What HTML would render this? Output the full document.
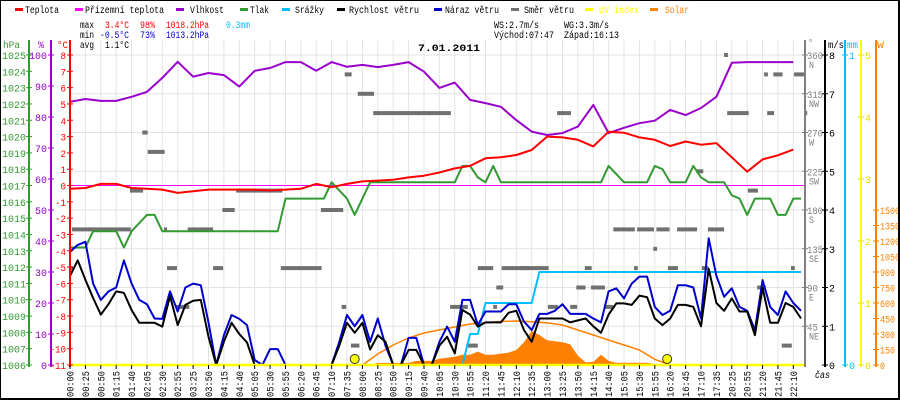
<!DOCTYPE html>
<html><head><meta charset="utf-8"><style>
html,body{margin:0;padding:0;background:#fff;}
svg{display:block;}
text{font-family:"Liberation Mono","DejaVu Sans Mono",monospace;font-size:10px;}
</style></head><body>
<svg id="chart" width="900" height="400" viewBox="0 0 900 400" xmlns="http://www.w3.org/2000/svg">
<rect x="0" y="0" width="900" height="400" fill="#fff"/>
<g id="grid"></g>
<g id="series"></g>
<g id="axes"></g>
<g id="legend">
</g>
<g>
<text x="80" y="28" textLength="14" lengthAdjust="spacingAndGlyphs">max</text>
<text x="105" y="28" fill="#f00" textLength="24" lengthAdjust="spacingAndGlyphs">3.4°C</text>
<text x="140" y="28" fill="#f00" textLength="15" lengthAdjust="spacingAndGlyphs">98%</text>
<text x="166" y="28" fill="#f00" textLength="43" lengthAdjust="spacingAndGlyphs">1018.2hPa</text>
<text x="226" y="28" fill="#00bfff" textLength="24" lengthAdjust="spacingAndGlyphs">0.3mm</text>
<text x="80" y="38" textLength="14" lengthAdjust="spacingAndGlyphs">min</text>
<text x="100" y="38" fill="#00c" textLength="29" lengthAdjust="spacingAndGlyphs">-0.5°C</text>
<text x="140" y="38" fill="#00c" textLength="15" lengthAdjust="spacingAndGlyphs">73%</text>
<text x="166" y="38" fill="#00c" textLength="43" lengthAdjust="spacingAndGlyphs">1013.2hPa</text>
<text x="80" y="48" textLength="14" lengthAdjust="spacingAndGlyphs">avg</text>
<text x="105" y="48" textLength="24" lengthAdjust="spacingAndGlyphs">1.1°C</text>
<text x="494" y="28" textLength="45" lengthAdjust="spacingAndGlyphs">WS:2.7m/s</text>
<text x="564" y="28" textLength="45" lengthAdjust="spacingAndGlyphs">WG:3.3m/s</text>
<text x="494" y="38" textLength="60" lengthAdjust="spacingAndGlyphs">Východ:07:47</text>
<text x="564" y="38" textLength="55" lengthAdjust="spacingAndGlyphs">Západ:16:13</text>
<text x="418" y="51" font-weight="bold" font-size="13" textLength="62" lengthAdjust="spacingAndGlyphs">7.01.2011</text>
</g>
<path d="M0.5,0.5 H898.5 V398.5 H0.5 Z" fill="none" stroke="#000" stroke-width="1"/>
<path d="M899,0 V399 H0" fill="none" stroke="#000" stroke-width="2"/>
</svg>
<script>
const labels=["00:00","00:25","00:50","01:15","01:40","02:05","02:30","02:55","03:25","03:50","04:15","04:40","05:05","05:30","05:55","06:20","06:45","07:10","07:35","08:00","08:25","08:50","09:15","09:40","10:05","10:30","10:55","11:20","11:45","12:10","12:35","13:00","13:25","13:50","14:15","14:40","15:05","15:30","15:55","16:20","16:45","17:10","17:35","20:25","20:55","21:20","21:45","22:10"];
const temperature=[-0.2,-0.15,0.1,0.1,-0.15,-0.2,-0.25,-0.45,-0.35,-0.25,-0.25,-0.25,-0.25,-0.3,-0.25,-0.2,0.1,-0.1,0.1,0.25,0.3,0.35,0.5,0.6,0.8,1.05,1.2,1.67,1.73,1.87,2.18,3.0,2.95,2.8,2.4,3.3,3.24,2.95,2.8,2.42,2.7,2.5,2.6,1.73,0.85,1.6,1.85,2.2];
const humidity=[84.9,85.8,85.2,85.2,86.5,88.1,92.6,97.8,93,94.2,93.5,89.8,94.9,95.8,97.7,97.7,94.9,97.7,96.2,96.8,96.1,96.8,97.7,94.6,89.4,91.1,85.5,84.5,83.3,79,75.3,74.2,74.8,76.9,83.9,74.8,76.5,78,78.8,82.3,80.6,82.9,86.5,97.5,97.7,97.7,97.7,97.7];
const pressure=[1013.2,1013.2,1013.2,1014.2,1014.2,1014.2,1014.2,1013.2,1014.2,1014.7,1015.2,1015.2,1014.2,1014.2,1014.2,1014.2,1014.2,1014.2,1014.2,1014.2,1014.2,1014.2,1014.2,1014.2,1014.2,1014.2,1014.2,1014.2,1016.2,1016.2,1016.2,1016.2,1016.2,1016.2,1017.2,1016.7,1016.2,1015.2,1016.2,1017.2,1017.2,1017.2,1017.2,1017.2,1017.2,1017.2,1017.2,1017.2,1017.2,1017.2,1017.2,1018.2,1018.2,1017.5,1017.2,1018.2,1017.2,1017.2,1017.2,1017.2,1017.2,1017.2,1017.2,1017.2,1017.2,1017.2,1017.2,1017.2,1017.2,1017.2,1018.2,1017.7,1017.2,1017.2,1017.2,1017.2,1018.2,1018.0,1017.2,1017.2,1017.2,1018.2,1017.5,1017.2,1017.2,1017.2,1016.4,1016.2,1015.2,1016.2,1016.2,1016.2,1015.2,1015.2,1016.2,1016.2];
const windSpeed=[2.3,2.7,2.2,1.73,1.3,1.57,1.9,1.86,1.42,1.09,1.09,1.09,0.99,1.78,1.03,1.55,1.66,1.68,0.73,0,0.6,1.09,0.8,0.58,0,0,0,0,0,0,0,0,0,0,0,0.5,1.09,0.83,1.09,0.4,0.77,0.6,0,0,0.39,0.39,0,0,0.5,0.73,0.3,1.42,1.3,0.99,1.1,1.1,1.1,1.35,1.4,0.9,0.6,1.2,1.2,1.2,1.2,1.1,1.15,1.2,1.0,0.83,1.3,1.59,1.59,1.55,1.79,1.75,1.2,1.03,1.2,1.55,1.55,1.5,1.0,2.48,1.6,1.4,1.72,1.38,1.38,0.77,1.99,1.09,1.09,1.6,1.5,1.2];
const windGust=[2.92,3.1,3.18,2.1,1.68,1.9,2.0,2.7,2.1,1.68,1.57,1.2,1.19,1.9,1.38,2.0,2.1,2.06,1.1,0,0.77,1.29,1.19,1.03,0.13,0,0.41,0.41,0,0,0,0,0,0,0,0.6,1.29,1.0,1.29,0.6,1.2,0.5,0,0,0.7,0.7,0,0,0.6,0.99,0.6,1.68,1.68,1.03,1.38,1.38,1.38,1.57,1.57,1.12,0.9,1.32,1.32,1.4,1.57,1.32,1.32,1.32,1.2,1.1,1.9,1.98,1.72,2.1,2.28,2.28,1.5,1.29,1.4,2.06,2.06,2.0,1.2,3.27,2.3,1.76,1.98,1.5,1.4,0.9,2.19,1.5,1.29,1.9,1.6,1.4];
const rain=[0,0,0,0,0,0,0,0,0,0,0,0,0,0,0,0,0,0,0,0,0,0,0,0,0,0,0,0,0,0,0,0,0,0,0,0,0,0,0,0,0,0,0,0,0,0,0,0,0,0,0,0,0.1,0.1,0.2,0.2,0.2,0.2,0.2,0.2,0.2,0.3,0.3,0.3,0.3,0.3,0.3,0.3,0.3,0.3,0.3,0.3,0.3,0.3,0.3,0.3,0.3,0.3,0.3,0.3,0.3,0.3,0.3,0.3,0.3,0.3,0.3,0.3,0.3,0.3,0.3,0.3,0.3,0.3,0.3,0.3];
const solar=[0,0,0,0,0,0,0,0,0,0,0,0,0,0,0,0,0,0,0,0,0,0,0,0,0,0,0,0,0,0,0,0,0,0,0,0,0,0,0,0,20,20,20,20,20,40,40,40,60,70,80,100,100,130,100,100,110,120,145,220,330,290,240,230,220,200,90,25,30,100,40,22,22,22,22,22,10,0,0,0,0,0,0,0,0,0,0,0,0,0,0,0,0,0,0,0];
const solarTheoStart=19;
const solarTheo=[0,106,194,261,310,339,368,397,411,421,426,419,407,387,339,290,242,194,145,55,0];
const sunEvents=[18.5,38.8];
const dirFrom=[-0.1,0.26,9.4,10.1,7.8,12.2,15.3,19.8,12.6,18.6,13.8,27.4,21.6,35.7,37.4,39.4,32.6,35.3,36.5,53,56.1,55.4,49.4,55,51.7,85,90.2,91.4,94.1,63.3,85.4,90.6,95.4,81.4,88.1,70.6,73.7,76.2,78.9,82.9,75.8,58.5,66.9,73.3,77.7,82.1,93.7,65.8,67.7,89.3,62.1,65,69.4,92.5];
const dirTo=[0.4,7.9,10.1,12.3,9.5,12.6,18.6,21.4,13.9,19.9,15.5,32.7,27.6,36.6,39.5,49.5,35.5,35.9,37.6,55,59.8,56.3,51.7,55.5,53,85.5,90.7,92.6,95.4,65.1,88.2,91.5,95.8,82.3,89.4,73.4,75.9,77.9,81.5,85,76.3,62.2,67.8,73.8,79,83,94.2,67,69.5,90.4,63.4,65.9,70.6,93.8];
const dirDeg=[112.5,157.5,270,247.5,202.5,157.5,157.5,180,112.5,112.5,67.5,112.5,202.5,337.5,315,292.5,180,67.5,22.5,112.5,112.5,90,67.5,67.5,22.5,360,337.5,337.5,337.5,292.5,292.5,292.5,292.5,225,202.5,157.5,157.5,157.5,157.5,157.5,135,112.5,112.5,112.5,112.5,112.5,112.5,90,90,90,67.5,67.5,67.5,22.5];

const NS='http://www.w3.org/2000/svg';
const X0=70,DX=15.39,YB=365;
const xi=i=>X0+i*DX;
const xh=j=>X0+j*DX/2;
const yT=t=>55+(8-t)*(310/19);
const yP=p=>yT(p-1017);
const yH=h=>YB-h*3.1;
const yW=w=>YB-w*38.75;
const yD=d=>YB-d*38.75/45;
const yR=r=>YB-r*310;
const yS=s=>YB-s*(155/1500);
const yU=u=>YB-u*62;
function mk(tag,attrs,parent){const e=document.createElementNS(NS,tag);for(const k in attrs)e.setAttribute(k,attrs[k]);parent.appendChild(e);return e;}
const grid=document.getElementById('grid'),ser=document.getElementById('series'),axes=document.getElementById('axes'),leg=document.getElementById('legend');

// grid
for(let i=0;i<labels.length;i++){const l=mk('line',{x1:xi(i),x2:xi(i),y1:40,y2:YB,stroke:'#e3e3e3','stroke-width':1},grid);

}
for(let k=1;k<=8;k++){const l=mk('line',{x1:X0,x2:805,y1:yW(k),y2:yW(k),stroke:'#e3e3e3','stroke-width':1},grid);

}

function line(vals,xf,yf,color,w,name){const pts=vals.map((v,i)=>xf(i).toFixed(1)+','+yf(v).toFixed(1)).join(' ');
const p=mk('polyline',{points:pts,fill:'none',stroke:color,'stroke-width':w,'stroke-linejoin':'round'},ser);

return p;}

// solar area
{let pts=[xh(0)+','+YB];solar.forEach((s,j)=>pts.push(xh(j).toFixed(1)+','+yS(s).toFixed(1)));pts.push(xh(solar.length-1)+','+YB);
const a=mk('polygon',{points:pts.join(' '),fill:'#ff8000'},ser);

}
line(solarTheo,i=>xi(i+solarTheoStart),yS,'#ff8000',1.5,'solar-theoretical-line');
// magenta apparent temp at 0
{const m=mk('line',{x1:X0,x2:805,y1:yT(0),y2:yT(0),stroke:'#ff00ff','stroke-width':1},ser);

}
// wind direction
for(let k=0;k<dirDeg.length;k++){const x1=Math.max(66,xh(dirFrom[k])),x2=xh(dirTo[k]);
const r=mk('rect',{x:x1.toFixed(1),y:(yD(dirDeg[k])-2).toFixed(1),width:Math.max(3,x2-x1).toFixed(1),height:4,fill:'#707070'},ser);

}
line(pressure,xh,yP,'#339933',2,'pressure-line');
line(humidity,xi,yH,'#9900cc',2,'humidity-line');
line(temperature,xi,yT,'#ff0000',2,'temperature-line');
line(rain,xh,yR,'#00bfff',2,'rain-line');
line(windGust,xh,yW,'#0000cc',2,'wind-gust-line');
line(windSpeed,xh,yW,'#000000',2,'wind-speed-line');
{const u=mk('line',{x1:X0,x2:805,y1:YB,y2:YB,stroke:'#ffff00','stroke-width':2.5},ser);

}
sunEvents.forEach(e=>{const c=mk('circle',{cx:xi(e),cy:359,r:4.5,fill:'#ffff00',stroke:'#333','stroke-width':1},ser);

});

// axes
function vaxis(x,color,name){const l=mk('line',{x1:x,x2:x,y1:40,y2:YB+2,stroke:color,'stroke-width':2},axes);

}
function txt(x,y,s,color,anchor,len,parent){const t=mk('text',{x:x,y:y,fill:color,'text-anchor':anchor||'start'},parent||axes);if(len){t.setAttribute('textLength',len);t.setAttribute('lengthAdjust','spacingAndGlyphs');}t.textContent=s;return t;}
vaxis(29,'#339933','pressure-axis');vaxis(51,'#9900cc','humidity-axis');vaxis(70,'#ff0000','temperature-axis');
vaxis(805,'#808080','direction-axis');vaxis(825,'#000','wind-axis');vaxis(845,'#00bfff','rain-axis');vaxis(861,'#ffff00','uv-axis');vaxis(876,'#ff8000','solar-axis');
for(let p=1006;p<=1025;p++){mk('line',{x1:26,x2:32,y1:yP(p),y2:yP(p),stroke:'#339933'},axes);txt(26,yP(p)+4,String(p),'#339933','end',24);}
for(let h=0;h<=100;h+=10){mk('line',{x1:48,x2:54,y1:yH(h),y2:yH(h),stroke:'#9900cc'},axes);txt(47,yH(h)+4,String(h),'#9900cc','end',h==100?18:(h==0?6:12));}
for(let t=-11;t<=8;t++){mk('line',{x1:67,x2:73,y1:yT(t),y2:yT(t),stroke:'#ff0000'},axes);const s=String(t);txt(66,yT(t)+4,s,'#ff0000','end',s.length*5.5);}
const dn=['','NE','E','SE','S','SW','W','NW','N'];
for(let k=1;k<=8;k++){const y=yD(k*45);mk('line',{x1:802,x2:808,y1:y,y2:y,stroke:'#808080'},axes);txt(807,y+4,String(k*45),'#808080','start',k*45>=100?16:11);txt(809,y+13,dn[k],'#808080','start',dn[k].length*5);}
for(let k=0;k<=8;k++){mk('line',{x1:822,x2:828,y1:yW(k),y2:yW(k),stroke:'#000'},axes);txt(829,yW(k)+4,String(k),'#000','start',6);}
for(let k=0;k<=1;k++){mk('line',{x1:842,x2:848,y1:yR(k),y2:yR(k),stroke:'#00bfff'},axes);txt(849,yR(k)+4,String(k),'#00bfff','start',6);}
for(let k=0;k<=5;k++){mk('line',{x1:858,x2:864,y1:yU(k),y2:yU(k),stroke:'#e0e000'},axes);txt(865,yU(k)+4,String(k),'#e0e000','start',6);}
for(let w=0;w<=1500;w+=150){mk('line',{x1:873,x2:879,y1:yS(w),y2:yS(w),stroke:'#ff8000'},axes);const s=String(w);txt(880,yS(w)+4,s,'#ff8000','start',s.length*5);}
txt(3,48,'hPa','#339933','start',17);txt(38,48,'%','#9900cc','start',6);txt(57,48,'°C','#ff0000','start',11);
txt(808,46,'°','#808080','start',5);txt(828,48,'m/s','#000','start',16);txt(847,48,'mm','#00bfff','start',11);txt(877,48,'W','#ff8000','start',7);
{const c=txt(815,378,'čas','#000','start',15);c.setAttribute('font-style','italic');}
labels.forEach((s,i)=>{const x=xi(i);mk('line',{x1:x,x2:x,y1:YB,y2:YB+4,stroke:'#000'},axes);
const t=mk('text',{x:0,y:0,transform:`translate(${(x+3.5).toFixed(1)},397) rotate(-90)`,textLength:26,lengthAdjust:'spacingAndGlyphs','font-size':9},axes);


t.textContent=s;});

// legend
const legNames=['Teplota','Přízemní teplota','Vlhkost','Tlak','Srážky','Rychlost větru','Náraz větru','Směr větru','UV index','Solar'];
const legColors=['#ff0000','#ff00ff','#9900cc','#339933','#00bfff','#000000','#0000cc','#707070','#ffff00','#ff8000'];
const legMx=[15,75,176,240,282,337,434,511,585,650];
const legTx=[25,85,190,250,295,349,445,524,599,665];
const legLen=[34,79,34,19,29,70,54,50,40,24];
legNames.forEach((n,i)=>{const g=mk('g',{},leg);


mk('rect',{x:legMx[i],y:8,width:8,height:3,fill:legColors[i]},g);
const t=mk('text',{x:legTx[i],y:13,fill:(i==8?'#ffff00':(i==9?'#ff8000':'#000')),textLength:legLen[i],lengthAdjust:'spacingAndGlyphs'},g);t.textContent=n;});
</script>
</body></html>
